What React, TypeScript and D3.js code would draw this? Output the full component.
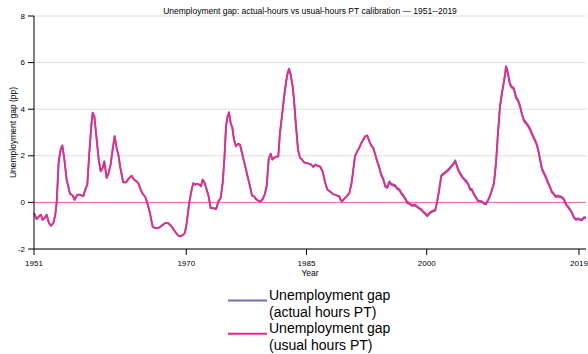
import React from "react";
import * as d3 from "d3";

const years: number[] = [
  1951.00, 1951.33, 1951.67, 1951.87, 1952.08, 1952.37, 1952.58, 1952.87, 1953.12, 1953.41,
  1953.66, 1953.83, 1954.08, 1954.33, 1954.53, 1954.74, 1955.07, 1955.49, 1955.82, 1956.07,
  1956.32, 1956.61, 1956.95, 1957.15, 1957.40, 1957.65, 1957.90, 1958.15, 1958.32, 1958.53,
  1958.82, 1959.07, 1959.32, 1959.57, 1959.77, 1960.06, 1960.31, 1960.56, 1960.81, 1961.06,
  1961.31, 1961.56, 1961.81, 1962.14, 1962.48, 1962.77, 1963.18, 1963.47, 1963.81, 1964.01,
  1964.31, 1964.56, 1964.89, 1965.14, 1965.47, 1965.80, 1966.09, 1966.51, 1966.93, 1967.34,
  1967.76, 1968.17, 1968.59, 1969.00,
  1969.22, 1969.63, 1969.84, 1970.05, 1970.38, 1970.67, 1970.88, 1971.09, 1971.30, 1971.63,
  1971.84, 1972.04, 1972.29, 1972.54, 1972.79, 1973.04, 1973.38, 1973.71, 1974.00, 1974.29,
  1974.54, 1974.75, 1974.96, 1975.16, 1975.33, 1975.54, 1975.75, 1975.95, 1976.20, 1976.45,
  1976.70, 1976.95, 1977.20, 1977.45, 1977.70, 1977.95, 1978.20, 1978.45, 1978.70, 1978.86,
  1979.11, 1979.28, 1979.53, 1979.78, 1980.03, 1980.28, 1980.53, 1980.74, 1980.94, 1981.19,
  1981.48, 1981.69, 1981.94, 1982.19, 1982.44, 1982.61, 1982.81, 1983.02, 1983.27, 1983.44,
  1983.69, 1983.94, 1984.19, 1984.44, 1984.69, 1985.02, 1985.35, 1985.60, 1985.85, 1986.10,
  1986.35,
  1986.68, 1987.01, 1987.30, 1987.59, 1987.93, 1988.26, 1988.55, 1988.84, 1989.09, 1989.26,
  1989.42, 1989.67, 1990.01, 1990.34, 1990.63, 1990.84, 1991.05, 1991.34, 1991.59, 1991.84,
  1992.09, 1992.33, 1992.58, 1992.83, 1993.08, 1993.33, 1993.58, 1993.83,
  1994.08, 1994.33, 1994.58, 1994.83, 1995.08, 1995.33, 1995.58, 1995.83, 1996.08, 1996.33,
  1996.58, 1996.83, 1997.08, 1997.32, 1997.57, 1997.82, 1998.07, 1998.32, 1998.57, 1998.82,
  1999.07, 1999.32, 1999.57, 1999.82, 2000.07, 2000.32, 2000.57, 2000.82, 2001.07, 2001.32,
  2001.57, 2001.82, 2002.06, 2002.31, 2002.56, 2002.81, 2003.06, 2003.31, 2003.56, 2003.73,
  2003.98, 2004.23, 2004.48, 2004.73, 2004.98, 2005.23,
  2005.39, 2005.64, 2005.89, 2006.14, 2006.39, 2006.64, 2006.89, 2007.14, 2007.39, 2007.64,
  2007.89, 2008.14, 2008.39, 2008.64, 2008.89, 2009.14, 2009.39, 2009.64, 2009.80, 2009.89,
  2010.05, 2010.22, 2010.38, 2010.63, 2010.88, 2011.13, 2011.38, 2011.63, 2011.88, 2012.13,
  2012.38, 2012.63, 2012.88, 2013.13, 2013.38, 2013.63, 2013.88, 2014.13, 2014.38, 2014.63,
  2014.88, 2015.12, 2015.37, 2015.62, 2015.87, 2016.12, 2016.37, 2016.62, 2016.87, 2017.12,
  2017.37, 2017.62, 2017.87, 2018.12, 2018.37, 2018.62, 2018.87, 2019.12, 2019.37, 2019.62,
  2019.86,
];

const usualGap: number[] = [
  -0.46, -0.72, -0.57, -0.53, -0.75, -0.65, -0.53, -0.89, -1.00, -0.89,
  -0.53, 0.00, 1.76, 2.27, 2.45, 1.98, 0.98, 0.37, 0.30, 0.11,
  0.29, 0.34, 0.30, 0.26, 0.55, 0.76, 2.12, 3.27, 3.85, 3.70,
  2.70, 1.84, 1.33, 1.48, 1.76, 1.05, 1.26, 1.62, 2.27, 2.84,
  2.34, 1.98, 1.41, 0.86, 0.86, 1.00, 1.15, 0.98, 0.90, 0.83,
  0.55, 0.37, 0.23, -0.03, -0.46, -1.03, -1.10, -1.10, -1.00, -0.89,
  -0.89, -1.03, -1.25, -1.43,
  -1.46, -1.39, -1.29, -0.89, 0.00, 0.55, 0.83, 0.76, 0.80, 0.76,
  0.69, 0.98, 0.83, 0.55, 0.26, -0.24, -0.24, -0.29, 0.04, 0.19,
  0.83, 1.84, 3.27, 3.70, 3.87, 3.41, 3.20, 2.70, 2.41, 2.51,
  2.48, 2.12, 1.76, 1.41, 1.05, 0.69, 0.30, 0.26, 0.14, 0.11,
  0.04, 0.04, 0.14, 0.33, 0.69, 1.84, 2.09, 1.84, 1.91, 1.95,
  1.98, 2.98, 3.70, 4.49, 5.14, 5.49, 5.74, 5.49, 4.99, 4.42,
  3.27, 2.27, 1.91, 1.84, 1.72, 1.69, 1.65, 1.62, 1.52, 1.62,
  1.58,
  1.55, 1.33, 0.90, 0.55, 0.47, 0.37, 0.33, 0.29, 0.26, 0.11,
  0.04, 0.14, 0.26, 0.40, 0.83, 1.41, 1.98, 2.20, 2.34, 2.55,
  2.70, 2.84, 2.87, 2.63, 2.44, 2.34, 2.05, 1.76,
  1.48, 1.15, 0.98, 0.66, 0.62, 0.86, 0.76, 0.72, 0.69, 0.57,
  0.52, 0.37, 0.26, 0.14, -0.03, -0.06, -0.10, -0.11, -0.10, -0.17,
  -0.24, -0.29, -0.39, -0.46, -0.56, -0.46, -0.39, -0.34, -0.32, 0.04,
  0.55, 1.12, 1.19, 1.26, 1.33, 1.41, 1.52, 1.62, 1.76, 1.58,
  1.33, 1.19, 1.05, 0.95, 0.86, 0.72,
  0.55, 0.52, 0.33, 0.19, 0.09, 0.07, 0.04, -0.03, -0.06, 0.11,
  0.29, 0.55, 0.83, 1.69, 2.98, 4.13, 4.71, 5.21, 5.57, 5.85,
  5.64, 5.35, 5.06, 4.92, 4.85, 4.49, 4.35, 4.13, 3.77, 3.49,
  3.39, 3.27, 3.13, 2.91, 2.73, 2.55, 2.27, 1.84, 1.41, 1.23,
  1.05, 0.83, 0.66, 0.43, 0.33, 0.23, 0.26, 0.23, 0.20, 0.11,
  -0.10, -0.20, -0.32, -0.46, -0.67, -0.75, -0.72, -0.75, -0.77, -0.67,
  -0.67,
];

const actualGap: number[] = [
  -0.46, -0.72, -0.57, -0.53, -0.75, -0.65, -0.53, -0.89, -1.00, -0.89,
  -0.53, 0.00, 1.76, 2.27, 2.45, 1.98, 0.98, 0.37, 0.30, 0.11,
  0.29, 0.34, 0.30, 0.26, 0.55, 0.76, 2.12, 3.27, 3.85, 3.70,
  2.70, 1.84, 1.33, 1.48, 1.76, 1.05, 1.26, 1.62, 2.27, 2.84,
  2.34, 1.98, 1.41, 0.86, 0.86, 1.00, 1.15, 0.98, 0.90, 0.83,
  0.55, 0.37, 0.23, -0.03, -0.46, -1.03, -1.10, -1.10, -1.00, -0.89,
  -0.89, -1.03, -1.25, -1.43,
  -1.46, -1.39, -1.29, -0.89, 0.00, 0.55, 0.83, 0.76, 0.80, 0.76,
  0.69, 0.98, 0.83, 0.55, 0.26, -0.24, -0.24, -0.29, 0.04, 0.19,
  0.83, 1.84, 3.27, 3.70, 3.87, 3.41, 3.20, 2.70, 2.41, 2.51,
  2.48, 2.12, 1.76, 1.41, 1.05, 0.69, 0.30, 0.26, 0.14, 0.11,
  0.04, 0.04, 0.14, 0.33, 0.69, 1.84, 2.09, 1.84, 1.91, 1.95,
  1.98, 2.98, 3.70, 4.49, 5.14, 5.49, 5.74, 5.49, 4.99, 4.42,
  3.27, 2.27, 1.91, 1.84, 1.72, 1.69, 1.65, 1.62, 1.52, 1.62,
  1.58,
  1.55, 1.33, 0.90, 0.55, 0.47, 0.37, 0.33, 0.29, 0.26, 0.11,
  0.04, 0.14, 0.26, 0.40, 0.83, 1.41, 1.98, 2.20, 2.34, 2.55,
  2.70, 2.84, 2.87, 2.63, 2.44, 2.34, 2.05, 1.76,
  1.53, 1.20, 1.03, 0.71, 0.67, 0.91, 0.81, 0.77, 0.74, 0.62,
  0.57, 0.42, 0.31, 0.19, 0.02, -0.02, -0.14, -0.15, -0.14, -0.21,
  -0.28, -0.33, -0.43, -0.50, -0.60, -0.50, -0.43, -0.38, -0.36, 0.09,
  0.60, 1.17, 1.24, 1.31, 1.38, 1.46, 1.57, 1.67, 1.81, 1.63,
  1.38, 1.24, 1.10, 1.00, 0.91, 0.77,
  0.60, 0.57, 0.38, 0.24, 0.06, 0.04, 0.01, -0.06, -0.09, 0.08,
  0.26, 0.52, 0.80, 1.65, 2.94, 4.09, 4.67, 5.17, 5.53, 5.81,
  5.70, 5.41, 5.12, 4.98, 4.91, 4.55, 4.41, 4.19, 3.83, 3.55,
  3.45, 3.33, 3.19, 2.97, 2.79, 2.61, 2.33, 1.90, 1.47, 1.29,
  1.11, 0.87, 0.70, 0.47, 0.37, 0.27, 0.30, 0.27, 0.24, 0.15,
  -0.06, -0.16, -0.28, -0.42, -0.63, -0.71, -0.68, -0.71, -0.73, -0.63,
  -0.63,
];

const xTickValues: number[] = [1951, 1970, 1985, 2000, 2019];
const yTickValues: number[] = [-2, 0, 2, 4, 6, 8];
const seriesNames: string[][] = [
  ["Unemployment gap", "(actual hours PT)"],
  ["Unemployment gap", "(usual hours PT)"],
];
const seriesColors: string[] = ["#7570b3", "#e7298a"];
const titleText = "Unemployment gap: actual-hours vs usual-hours PT calibration — 1951--2019";

const W = 588;
const H = 354;
const M = { left: 34, right: 2, top: 16, bottom: 105 };
const FONT = "'Liberation Sans', Arial, Helvetica, sans-serif";

export default function App() {
  const x = d3.scaleLinear().domain([1951, 2019.875]).range([M.left, W - M.right]);
  const y = d3.scaleLinear().domain([-2, 8]).range([H - M.bottom, M.top]);
  const line = d3
    .line<number>()
    .x((_, i) => x(years[i]))
    .y((d) => y(d));
  const series = [actualGap, usualGap];
  const x0 = M.left;
  const x1 = W - M.right;
  const yb = H - M.bottom;

  return (
    <svg
      width={W}
      height={H}
      style={{ position: "absolute", left: 0, top: 0, background: "#fff" }}
      fontFamily={FONT}
    >
      {/* grid */}
      {yTickValues.map((t) => (
        <line key={"g" + t} x1={x0} x2={x1} y1={y(t)} y2={y(t)} stroke="#dedede" strokeWidth={1} />
      ))}
      {/* zero line */}
      <line x1={x0} x2={x1} y1={y(0)} y2={y(0)} stroke="#f06aae" strokeWidth={1} />
      {/* series */}
      {series.map((s, i) => (
        <path
          key={"s" + i}
          d={line(s) || ""}
          fill="none"
          stroke={seriesColors[i]}
          strokeWidth={1.8}
          strokeLinejoin="round"
        />
      ))}
      {/* y axis */}
      <line x1={x0} x2={x0} y1={M.top} y2={yb} stroke="#000" strokeWidth={1} />
      {yTickValues.map((t) => (
        <g key={"yt" + t} transform={`translate(${x0},${y(t)})`}>
          <line x1={-6} x2={0} stroke="#000" />
          <text x={-9} dy="0.32em" textAnchor="end" fontSize={8} fill="#000">
            {t}
          </text>
        </g>
      ))}
      {/* x axis */}
      <line x1={x0} x2={x1} y1={yb} y2={yb} stroke="#000" strokeWidth={1} />
      {xTickValues.map((t) => (
        <g key={"xt" + t} transform={`translate(${x(t)},${yb})`}>
          <line y1={0} y2={6} stroke="#000" />
          <text y={17} textAnchor="middle" fontSize={8} fill="#000">
            {t}
          </text>
        </g>
      ))}
      <text x={(x0 + x1) / 2} y={276} textAnchor="middle" fontSize={8.5} fill="#000">
        Year
      </text>
      <text
        transform={`translate(16,${(M.top + yb) / 2}) rotate(-90)`}
        textAnchor="middle"
        fontSize={8.5}
        fill="#000"
      >
        Unemployment gap (pp)
      </text>
      <text x={(x0 + x1) / 2} y={14} textAnchor="middle" fontSize={8.5} fill="#000">
        {titleText}
      </text>
      {/* legend */}
      {seriesNames.map((lines, i) => (
        <g key={"lg" + i} transform={`translate(228,${300.5 + i * 33.3})`}>
          <line x1={0} x2={39} y1={0} y2={0} stroke={seriesColors[i]} strokeWidth={2} />
          {lines.map((l, j) => (
            <text key={j} x={41} y={-0.5 + j * 16.5} fontSize={14} fill="#000">
              {l}
            </text>
          ))}
        </g>
      ))}
    </svg>
  );
}
